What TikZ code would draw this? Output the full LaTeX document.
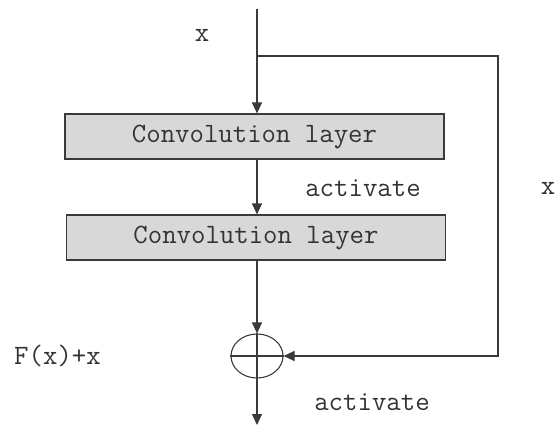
\documentclass[tikz,border=0pt]{standalone}
\usepackage{fontspec}
\usetikzlibrary{arrows.meta,shapes.geometric}
\definecolor{ln}{HTML}{3A3A3A}
\definecolor{tx}{HTML}{333333}
\definecolor{boxfill}{HTML}{D8D8D8}
\tikzset{
  convbox/.style={draw=ln, line width=1.1pt, fill=boxfill, minimum width=379pt, minimum height=45pt, inner sep=0pt, text=tx, font=\ttfamily\fontsize{28}{30}\selectfont},
  lbl/.style={text=tx, inner sep=0pt, font=\ttfamily\fontsize{28}{30}\selectfont},
  conn/.style={draw=ln, line width=1.1pt},
  arr/.style={conn, -{Triangle[length=11pt,width=10pt]}},
  sumnode/.style={ellipse, draw=ln, line width=1.1pt, minimum width=52pt, minimum height=44pt, inner sep=0pt}
}
\begin{document}
\begin{tikzpicture}[x=1pt,y=-1pt]
\useasboundingbox (0,0) rectangle (557,425);
\coordinate (top) at (257,9);
\coordinate (branch) at (257,56);
\coordinate (c1) at (498,56);
\coordinate (c2) at (498,356);
\coordinate (bottom) at (257,425);
\node[convbox] (box1) at (254.5,136.5) {Convolution layer};
\node[convbox] (box2) at (256,237.5) {Convolution layer};
\node[sumnode] (sum) at (257,356) {};
\draw[conn] (sum.west) -- (sum.east);
\draw[arr] (top) -- (top |- box1.north);
\draw[arr] (top |- box1.south) -- (top |- box2.north);
\draw[arr] (top |- box2.south) -- (sum.north);
\draw[arr] (sum.north) -- (bottom);
\draw[arr] (branch) -- (c1) -- (c2) -- (sum.east);
\node[lbl] (lx) at (202,35) {x};
\node[lbl] (lact1) at (363,188) {activate};
\node[lbl] (lx2) at (548,188) {x};
\node[lbl] (lfx) at (57.5,356) {F(x)+x};
\node[lbl] (lact2) at (372,402) {activate};
\end{tikzpicture}
\end{document}
